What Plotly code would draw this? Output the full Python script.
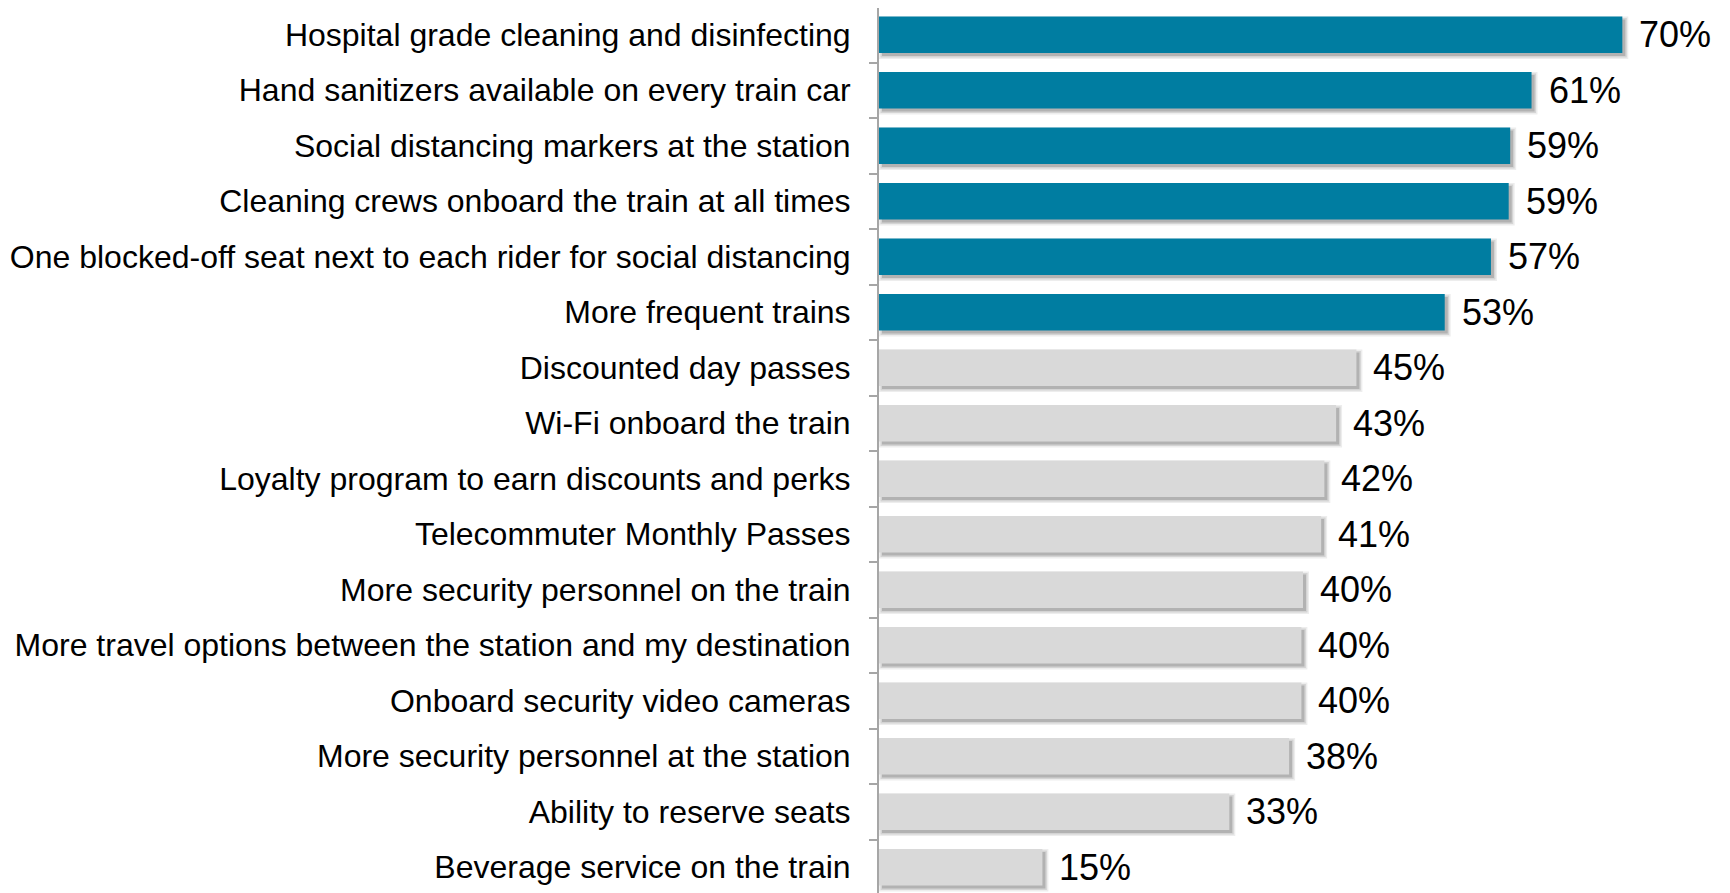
import plotly.graph_objects as go

categories = [
    "Hospital grade cleaning and disinfecting",
    "Hand sanitizers available on every train car",
    "Social distancing markers at the station",
    "Cleaning crews onboard the train at all times",
    "One blocked-off seat next to each rider for social distancing",
    "More frequent trains",
    "Discounted day passes",
    "Wi-Fi onboard the train",
    "Loyalty program to earn discounts and perks",
    "Telecommuter Monthly Passes",
    "More security personnel on the train",
    "More travel options between the station and my destination",
    "Onboard security video cameras",
    "More security personnel at the station",
    "Ability to reserve seats",
    "Beverage service on the train",
]
values = [69.6, 61.1, 59.1, 58.96, 57.3, 52.97, 44.7, 42.8, 41.7, 41.4,
          39.7, 39.55, 39.55, 38.4, 32.8, 15.3]
value_labels = ["70%", "61%", "59%", "59%", "57%", "53%", "45%", "43%", "42%",
                "41%", "40%", "40%", "40%", "38%", "33%", "15%"]
n_highlight = 6

TEAL = "#007DA1"
GREY = "#D9D9D9"
colors = [TEAL if i < n_highlight else GREY for i in range(len(categories))]

BAR_W = 0.66
PX_PER_Y = 55.5
PX_PER_X = 10.68

fig = go.Figure()

# soft drop shadows (layered)
shift = 3.0
for e, op in [(3.0, 0.07), (1.5, 0.10), (0.0, 0.16)]:
    fig.add_trace(go.Bar(
        y=categories,
        x=[v + 2 * e / PX_PER_X for v in values],
        base=(shift - e) / PX_PER_X,
        orientation="h",
        width=BAR_W + 2 * e / PX_PER_Y,
        offset=-BAR_W / 2 - e / PX_PER_Y + shift / PX_PER_Y,
        marker=dict(color=f"rgba(0,0,0,{op})", line=dict(width=0)),
        hoverinfo="skip",
        showlegend=False,
    ))

fig.add_trace(go.Bar(
    y=categories,
    x=values,
    orientation="h",
    width=BAR_W,
    marker=dict(color=colors, line=dict(width=0)),
    showlegend=False,
))

for c, v, t in zip(categories, values, value_labels):
    fig.add_annotation(
        x=v, y=c, text=t, showarrow=False,
        xanchor="left", yanchor="middle", xshift=15, yshift=0,
        font=dict(family="Liberation Sans, Arial", size=36, color="#000000"),
    )

# page has an 8px body margin; figure placed at (8, 8)
top = -0.5 + 1.0 / PX_PER_Y
fig.update_layout(
    width=1722, height=885,
    margin=dict(l=871, r=0, t=0, b=0),
    paper_bgcolor="white", plot_bgcolor="white",
    barmode="overlay",
    font=dict(family="Liberation Sans, Arial", color="#000000"),
    xaxis=dict(range=[0, 851 / PX_PER_X], visible=False, showgrid=False, zeroline=False),
    yaxis=dict(
        type="category",
        categoryorder="array", categoryarray=categories,
        range=[top + 885 / PX_PER_Y, top],
        showline=True, linecolor="#A6A6A6", linewidth=2,
        ticks="outside", tickson="boundaries", ticklen=8, tickwidth=2, tickcolor="#A6A6A6",
        showgrid=False, zeroline=False,
        tickfont=dict(family="Liberation Sans, Arial", size=32, color="#000000"),
        ticklabelstandoff=20,
    ),
)

fig.write_html("out.html")
